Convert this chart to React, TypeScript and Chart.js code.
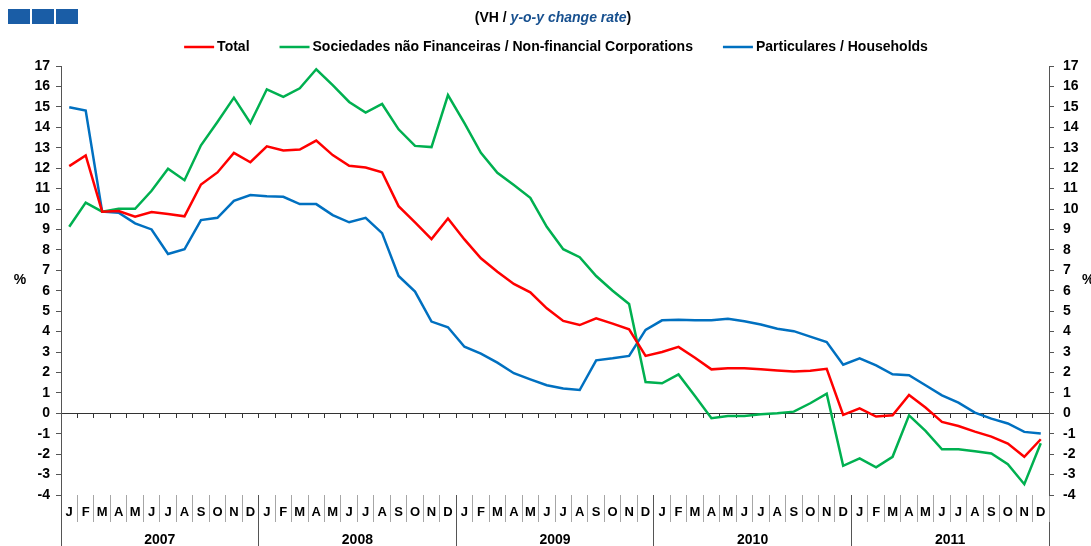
import React, { useEffect, useRef } from 'react';
import { Chart, registerables } from 'chart.js';

Chart.register(...registerables);

const FONT = '"Liberation Sans", Arial, Helvetica, sans-serif';

const monthLetters = ['J', 'F', 'M', 'A', 'M', 'J', 'J', 'A', 'S', 'O', 'N', 'D'];
const years = ['2007', '2008', '2009', '2010', '2011'];
const monthLabels = years.flatMap(() => monthLetters);

const totalSeries = [
  12.1, 12.62, 9.87, 9.9, 9.62, 9.85, 9.75, 9.64, 11.2, 11.79, 12.75, 12.29,
  13.07, 12.86, 12.91, 13.35, 12.64, 12.12, 12.03, 11.8, 10.14, 9.35, 8.53, 9.54,
  8.51, 7.59, 6.93, 6.33, 5.92, 5.14, 4.52, 4.32, 4.65, 4.39, 4.11, 2.81,
  3.0, 3.25, 2.72, 2.15, 2.2, 2.2, 2.15, 2.1, 2.04, 2.08, 2.18, -0.08,
  0.24, -0.16, -0.1, 0.9, 0.28, -0.42, -0.62, -0.9, -1.14, -1.48, -2.13, -1.27,
];

const nfcSeries = [
  9.13, 10.31, 9.87, 10.01, 10.01, 10.89, 11.97, 11.41, 13.12, 14.26, 15.45, 14.21,
  15.86, 15.49, 15.91, 16.84, 16.06, 15.24, 14.72, 15.14, 13.9, 13.09, 13.03, 15.58,
  14.2, 12.75, 11.77, 11.17, 10.55, 9.13, 8.03, 7.64, 6.72, 6.0, 5.35, 1.53,
  1.47, 1.9, 0.85, -0.24, -0.13, -0.13, -0.05, 0.0, 0.08, 0.49, 0.96, -2.57,
  -2.21, -2.65, -2.13, -0.1, -0.86, -1.76, -1.76, -1.86, -1.97, -2.49, -3.47, -1.47,
];

const householdSeries = [
  14.98, 14.82, 9.87, 9.82, 9.3, 9.0, 7.8, 8.03, 9.46, 9.57, 10.4, 10.68,
  10.63, 10.6, 10.24, 10.24, 9.7, 9.35, 9.57, 8.82, 6.72, 5.96, 4.49, 4.21,
  3.26, 2.92, 2.48, 1.96, 1.66, 1.37, 1.21, 1.14, 2.59, 2.69, 2.81, 4.08,
  4.55, 4.58, 4.56, 4.56, 4.63, 4.51, 4.35, 4.14, 4.02, 3.75, 3.49, 2.38,
  2.69, 2.35, 1.91, 1.86, 1.37, 0.88, 0.52, 0.03, -0.26, -0.5, -0.91, -0.99,
];

const seriesNames = [
  'Total',
  'Sociedades não Financeiras / Non-financial Corporations',
  'Particulares / Households',
];
const seriesColors = ['#ff0000', '#00b050', '#0070c0'];

const subtitleParts = ['(VH / ', 'y-o-y change rate', ')'];

export default function App() {
  const ref = useRef<HTMLCanvasElement>(null);

  useEffect(() => {
    const canvas = ref.current;
    if (!canvas) return;

    const decor = {
      id: 'decor',
      afterDraw(chart: any) {
        const ctx = chart.ctx as CanvasRenderingContext2D;
        const area = chart.chartArea;
        ctx.save();
        // blue squares
        ctx.fillStyle = '#1a5da6';
        for (let k = 0; k < 3; k++) ctx.fillRect(8 + k * 24, 9, 22, 15);

        // subtitle
        const boldF = `bold 14px ${FONT}`;
        const italF = `italic bold 14px ${FONT}`;
        ctx.textBaseline = 'middle';
        ctx.textAlign = 'left';
        ctx.font = boldF;
        const w0 = ctx.measureText(subtitleParts[0]).width;
        const w2 = ctx.measureText(subtitleParts[2]).width;
        ctx.font = italF;
        const w1 = ctx.measureText(subtitleParts[1]).width;
        let sx = 553 - (w0 + w1 + w2) / 2;
        const sy = 18;
        ctx.font = boldF;
        ctx.fillStyle = '#000';
        ctx.fillText(subtitleParts[0], sx, sy);
        sx += w0;
        ctx.font = italF;
        ctx.fillStyle = '#17508f';
        ctx.fillText(subtitleParts[1], sx, sy);
        sx += w1;
        ctx.font = boldF;
        ctx.fillStyle = '#000';
        ctx.fillText(subtitleParts[2], sx, sy);

        // legend
        const lineLen = 30;
        const gap = 3;
        const itemGap = 30;
        ctx.font = boldF;
        const ds = chart.data.datasets;
        const widths = ds.map((d: any) => ctx.measureText(d.label).width);
        const totalW = widths.reduce((a: number, b: number) => a + b, 0) + ds.length * (lineLen + gap) + (ds.length - 1) * itemGap;
        let lx = 556 - totalW / 2;
        const ly = 47;
        ds.forEach((d: any, i: number) => {
          ctx.strokeStyle = d.borderColor;
          ctx.lineWidth = 2.5;
          ctx.beginPath();
          ctx.moveTo(lx, ly);
          ctx.lineTo(lx + lineLen, ly);
          ctx.stroke();
          lx += lineLen + gap;
          ctx.fillStyle = '#000';
          ctx.fillText(d.label, lx, ly);
          lx += widths[i] + itemGap;
        });

        // % labels
        const my = (area.top + area.bottom) / 2;
        ctx.font = boldF;
        ctx.textAlign = 'center';
        ctx.fillText('%', 20, my);
        ctx.textAlign = 'left';
        ctx.fillText('%', 1082, my);
        ctx.restore();
      },
    };

    const tickFont = { family: FONT, size: 14, weight: 'bold' as const };

    const chart = new Chart(canvas, {
      type: 'line',
      data: {
        labels: monthLabels,
        datasets: [totalSeries, nfcSeries, householdSeries].map((values, i) => ({
          label: seriesNames[i],
          data: values,
          borderColor: seriesColors[i],
          backgroundColor: seriesColors[i],
          borderWidth: 2.5,
          pointRadius: 0,
          pointHoverRadius: 0,
          tension: 0,
          xAxisID: 'x',
          yAxisID: 'y',
        })),
      },
      plugins: [decor],
      options: {
        responsive: false,
        animation: false,
        devicePixelRatio: 1,
        layout: { padding: { top: 66, left: 0, right: 0, bottom: 0 } },
        plugins: {
          legend: { display: false },
          title: { display: false },
          tooltip: { enabled: false },
        },
        scales: {
          x: {
            type: 'category',
            position: 'bottom',
            offset: true,
            border: { display: false },
            grid: {
              display: true,
              offset: true,
              drawOnChartArea: false,
              drawTicks: true,
              tickLength: 27,
              lineWidth: 1,
              color: (c: any) => (c.index % 12 === 0 ? '#555555' : '#a6a6a6'),
            },
            ticks: {
              autoSkip: false,
              maxRotation: 0,
              minRotation: 0,
              padding: -17,
              color: '#000',
              font: { family: FONT, size: 13, weight: 'bold' },
            },
            afterFit: (s: any) => {
              s.height = 27;
            },
          },
          xYear: {
            type: 'category',
            position: 'bottom',
            labels: years,
            offset: true,
            border: { display: false },
            grid: {
              display: true,
              offset: true,
              drawOnChartArea: false,
              drawTicks: true,
              tickLength: 24,
              lineWidth: 1,
              color: '#555555',
            },
            ticks: {
              autoSkip: false,
              maxRotation: 0,
              minRotation: 0,
              padding: -14,
              color: '#000',
              font: tickFont,
            },
            afterFit: (s: any) => {
              s.height = 24;
            },
          },
          xZero: {
            type: 'category',
            position: { y: 0 },
            offset: true,
            border: { display: true, color: '#333333', width: 1 },
            grid: {
              display: true,
              offset: true,
              drawOnChartArea: false,
              drawTicks: true,
              tickLength: 4,
              color: '#333333',
            },
            ticks: { display: false },
          },
          y: {
            type: 'linear',
            position: 'left',
            min: -4,
            max: 17,
            border: { display: true, color: '#555555', width: 1 },
            grid: {
              display: true,
              drawOnChartArea: false,
              drawTicks: true,
              tickLength: 5,
              color: '#555555',
            },
            ticks: {
              stepSize: 1,
              padding: 6,
              color: '#000',
              font: tickFont,
            },
            afterFit: (s: any) => {
              s.width = 61;
            },
          },
          y2: {
            type: 'linear',
            position: 'right',
            min: -4,
            max: 17,
            border: { display: true, color: '#555555', width: 1 },
            grid: {
              display: true,
              drawOnChartArea: false,
              drawTicks: true,
              tickLength: 5,
              color: '#555555',
            },
            ticks: {
              stepSize: 1,
              padding: 9,
              color: '#000',
              font: tickFont,
            },
            afterFit: (s: any) => {
              s.width = 42;
            },
          },
        },
      } as any,
    });

    return () => chart.destroy();
  }, []);

  return (
    <div style={{ position: 'fixed', left: 0, top: 0, width: 1091, height: 546, background: '#fff' }}>
      <canvas ref={ref} width={1091} height={546} style={{ display: 'block', width: 1091, height: 546 }} />
    </div>
  );
}
